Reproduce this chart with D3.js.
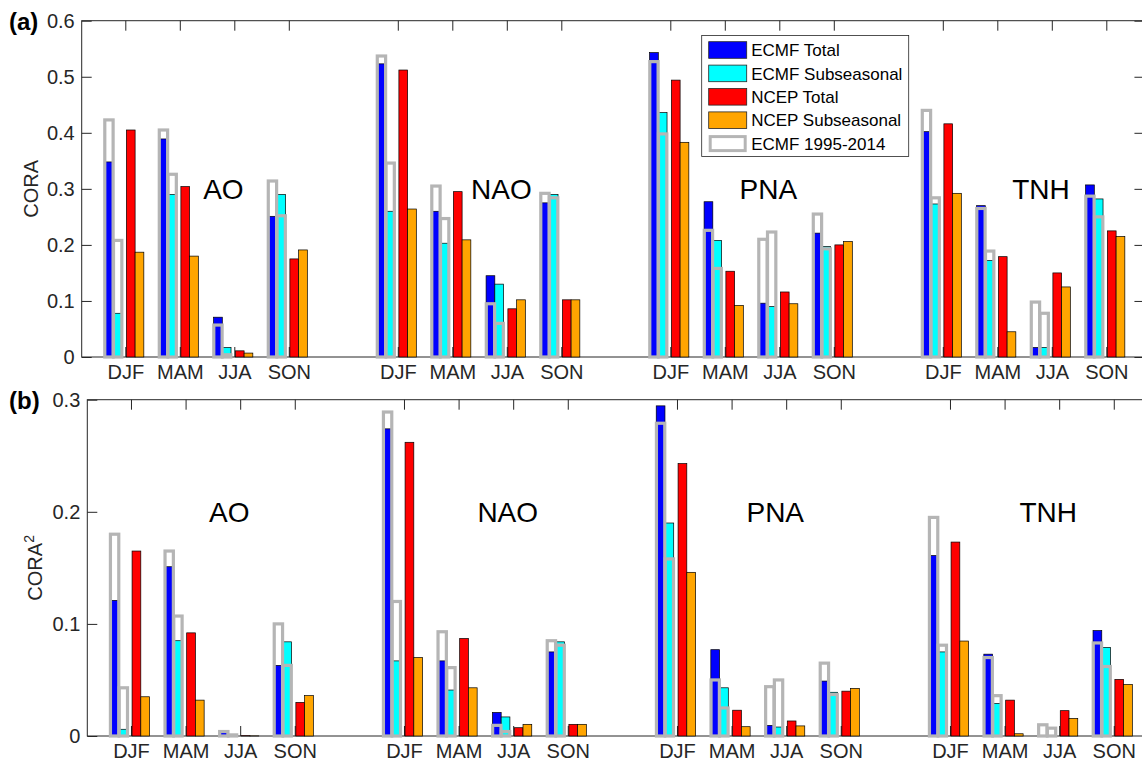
<!DOCTYPE html>
<html>
<head>
<meta charset="utf-8">
<script src="https://cdn.jsdelivr.net/npm/d3@7"></script>
<style>
  body { margin: 0; background: #fff; }
  svg { display: block; font-family: "Liberation Sans", Arial, sans-serif; }
</style>
</head>
<body>
<svg id="chart" width="1142" height="768"></svg>
<script>
// categories
var seasons = ["DJF", "MAM", "JJA", "SON"];
var modes = ["AO", "NAO", "PNA", "TNH"];
var modeLabelX = [2.8, 7.9, 12.8, 17.8];

// panel (a) CORA, order: AO DJF..SON, NAO, PNA, TNH
var coraEcmfTotal = [0.348, 0.389, 0.071, 0.251, 0.523, 0.260, 0.145, 0.275, 0.543, 0.277, 0.096, 0.221, 0.402, 0.270, 0.017, 0.307];
var coraEcmfSub   = [0.078, 0.290, 0.017, 0.290, 0.260, 0.203, 0.130, 0.290, 0.436, 0.208, 0.090, 0.197, 0.273, 0.172, 0.017, 0.282];
var coraNcepTotal = [0.405, 0.304, 0.011, 0.175, 0.512, 0.295, 0.086, 0.102, 0.494, 0.153, 0.116, 0.200, 0.416, 0.179, 0.150, 0.225];
var coraNcepSub   = [0.187, 0.180, 0.007, 0.191, 0.264, 0.209, 0.102, 0.102, 0.383, 0.092, 0.095, 0.206, 0.292, 0.045, 0.125, 0.215];
var coraOldTotal  = [0.423, 0.405, 0.057, 0.314, 0.537, 0.305, 0.095, 0.292, 0.527, 0.226, 0.210, 0.255, 0.440, 0.265, 0.098, 0.287];
var coraOldSub    = [0.208, 0.326, 0.004, 0.252, 0.346, 0.247, 0.060, 0.284, 0.398, 0.158, 0.223, 0.193, 0.284, 0.189, 0.078, 0.250];

// panel (b) CORA^2
var cora2EcmfTotal = [0.121, 0.151, 0.005, 0.063, 0.274, 0.067, 0.021, 0.075, 0.2945, 0.077, 0.0095, 0.049, 0.161, 0.073, 0.0003, 0.094];
var cora2EcmfSub   = [0.006, 0.085, 0.001, 0.084, 0.067, 0.041, 0.017, 0.084, 0.190, 0.043, 0.008, 0.039, 0.075, 0.029, 0.0003, 0.079];
var cora2NcepTotal = [0.165, 0.092, 0.0003, 0.030, 0.262, 0.087, 0.0074, 0.0104, 0.243, 0.023, 0.0134, 0.040, 0.173, 0.032, 0.0226, 0.0505];
var cora2NcepSub   = [0.035, 0.032, 0.0001, 0.036, 0.070, 0.043, 0.0104, 0.0104, 0.146, 0.0083, 0.009, 0.0425, 0.0847, 0.002, 0.0157, 0.046];
var cora2OldTotal  = [0.180, 0.165, 0.004, 0.100, 0.289, 0.093, 0.0095, 0.085, 0.279, 0.050, 0.044, 0.065, 0.195, 0.070, 0.0100, 0.083];
var cora2OldSub    = [0.043, 0.107, 0.001, 0.063, 0.120, 0.061, 0.004, 0.081, 0.158, 0.025, 0.050, 0.037, 0.081, 0.036, 0.007, 0.062];

var yTicksA = [0, 0.1, 0.2, 0.3, 0.4, 0.5, 0.6];
var yTicksB = [0, 0.1, 0.2, 0.3];

var legendNames = ["ECMF Total", "ECMF Subseasonal", "NCEP Total", "NCEP Subseasonal", "ECMF 1995-2014"];
var colors = ["#0000ff", "#00ffff", "#ff0000", "#ffa500"];
var gray = "#b5b5b5";
var axisColor = "#262626";

// x position of each category (1..4, 6..9, 11..14, 16..19)
var positions = [];
modes.forEach(function(m, g) {
    seasons.forEach(function(s, k) { positions.push(g * 5 + k + 1); });
});

var svg = d3.select("#chart");

function drawPanel(opt) {
    var x = d3.scaleLinear().domain([0.2, 19.7]).range([opt.left, opt.left + 19.5 * opt.step]);
    var y = d3.scaleLinear().domain([0, opt.ymax]).range([opt.bottom, opt.top]);
    var g = svg.append("g");
    var bw = 0.16;

    // axes
    var left = g.append("g").attr("transform", "translate(" + opt.left + ",0)")
        .call(d3.axisLeft(y).tickValues(opt.yTicks).tickSize(-10).tickPadding(7)
            .tickFormat(function(d){ return d === 0 ? "0" : d3.format(".1f")(d); }));
    var right = g.append("g").attr("transform", "translate(" + x.range()[1] + ",0)")
        .call(d3.axisRight(y).tickValues(opt.yTicks).tickSize(-10).tickFormat(""));
    var bottom = g.append("g").attr("transform", "translate(0," + opt.bottom + ")")
        .call(d3.axisBottom(x).tickValues(positions).tickSize(-10).tickPadding(8)
            .tickFormat(function(d, i){ return seasons[i % 4]; }));
    var topAx = g.append("g").attr("transform", "translate(0," + opt.top + ")")
        .call(d3.axisTop(x).tickValues(positions).tickSize(-10).tickFormat(""));
    [left, right, bottom, topAx].forEach(function(a) {
        a.select(".domain").remove();
        a.selectAll("line").attr("stroke", axisColor);
        a.selectAll("text").attr("fill", axisColor).style("font-size", "20px")
            .style("font-family", "'Liberation Sans', Arial, sans-serif");
    });
    g.append("rect").attr("x", opt.left).attr("y", opt.top)
        .attr("width", x.range()[1] - opt.left).attr("height", opt.bottom - opt.top)
        .attr("fill", "none").attr("stroke", axisColor).attr("stroke-width", 1);

    // bars
    var offsets = [-0.38, -0.22, 0.02, 0.18];
    opt.series.forEach(function(vals, s) {
        g.selectAll(null).data(vals).enter().append("rect")
            .attr("x", function(d, i){ return x(positions[i] + offsets[s]); })
            .attr("width", x(bw) - x(0))
            .attr("y", function(d){ return y(d); })
            .attr("height", function(d){ return y(0) - y(d); })
            .attr("fill", colors[s])
            .attr("stroke", "#000").attr("stroke-width", 0.7);
    });
    // 1995-2014 outlines
    opt.old.forEach(function(vals, s) {
        g.selectAll(null).data(vals).enter().append("rect")
            .attr("x", function(d, i){ return x(positions[i] + offsets[s]) + 0.2; })
            .attr("width", x(bw) - x(0) - 0.4)
            .attr("y", function(d){ return y(d); })
            .attr("height", function(d){ return y(0) - y(d); })
            .attr("fill", "none")
            .attr("stroke", gray).attr("stroke-width", 3.2);
    });

    // mode labels
    g.selectAll(null).data(modes).enter().append("text")
        .attr("x", function(d, i){ return x(modeLabelX[i]); })
        .attr("y", y(opt.labelY))
        .attr("dy", "0.35em")
        .attr("text-anchor", "middle")
        .style("font-size", "28px")
        .attr("fill", "#000")
        .text(function(d){ return d; });

    // panel tag
    g.append("text").attr("x", 9).attr("y", opt.top + 9)
        .style("font-size", "24px").style("font-weight", "bold")
        .attr("fill", "#000").text(opt.tag);

    // y label
    var yl = g.append("text")
        .attr("transform", "translate(" + opt.ylabX + "," + ((opt.top + opt.bottom) / 2) + ") rotate(-90)")
        .attr("text-anchor", "middle")
        .attr("fill", axisColor)
        .style("font-size", "20px");
    yl.append("tspan").text("CORA");
    if (opt.sup) {
        yl.append("tspan").attr("dy", "-0.6em").style("font-size", "14px").text(opt.sup);
    }
    return {x: x, y: y};
}

drawPanel({
    left: 81.7, step: 54.5, top: 20.7, bottom: 357, ymax: 0.6, yTicks: yTicksA,
    series: [coraEcmfTotal, coraEcmfSub, coraNcepTotal, coraNcepSub],
    old: [coraOldTotal, coraOldSub], labelY: 0.3, tag: "(a)", ylabX: 38, sup: null
});
drawPanel({
    left: 87.3, step: 54.6, top: 399.7, bottom: 736, ymax: 0.3, yTicks: yTicksB,
    series: [cora2EcmfTotal, cora2EcmfSub, cora2NcepTotal, cora2NcepSub],
    old: [cora2OldTotal, cora2OldSub], labelY: 0.2, tag: "(b)", ylabX: 42, sup: "2"
});

// legend
var lg = svg.append("g").attr("transform", "translate(701.7,35.5)");
lg.append("rect").attr("width", 207).attr("height", 121)
    .attr("fill", "#fff").attr("stroke", axisColor).attr("stroke-width", 0.8);
legendNames.forEach(function(name, i) {
    var cy = 14.5 + i * 23.4;
    var r = lg.append("rect").attr("x", 7).attr("y", cy - 8.3).attr("width", 38).attr("height", 16.6);
    if (i < 4) {
        r.attr("fill", colors[i]).attr("stroke", axisColor).attr("stroke-width", 0.8);
    } else {
        r.attr("x", 8.5).attr("y", cy - 7).attr("width", 35).attr("height", 14)
            .attr("fill", "#fff").attr("stroke", gray).attr("stroke-width", 3);
    }
    lg.append("text").attr("x", 49.5).attr("y", cy).attr("dy", "0.36em")
        .style("font-size", "17px").attr("fill", "#000").text(name);
});
</script>
</body>
</html>
